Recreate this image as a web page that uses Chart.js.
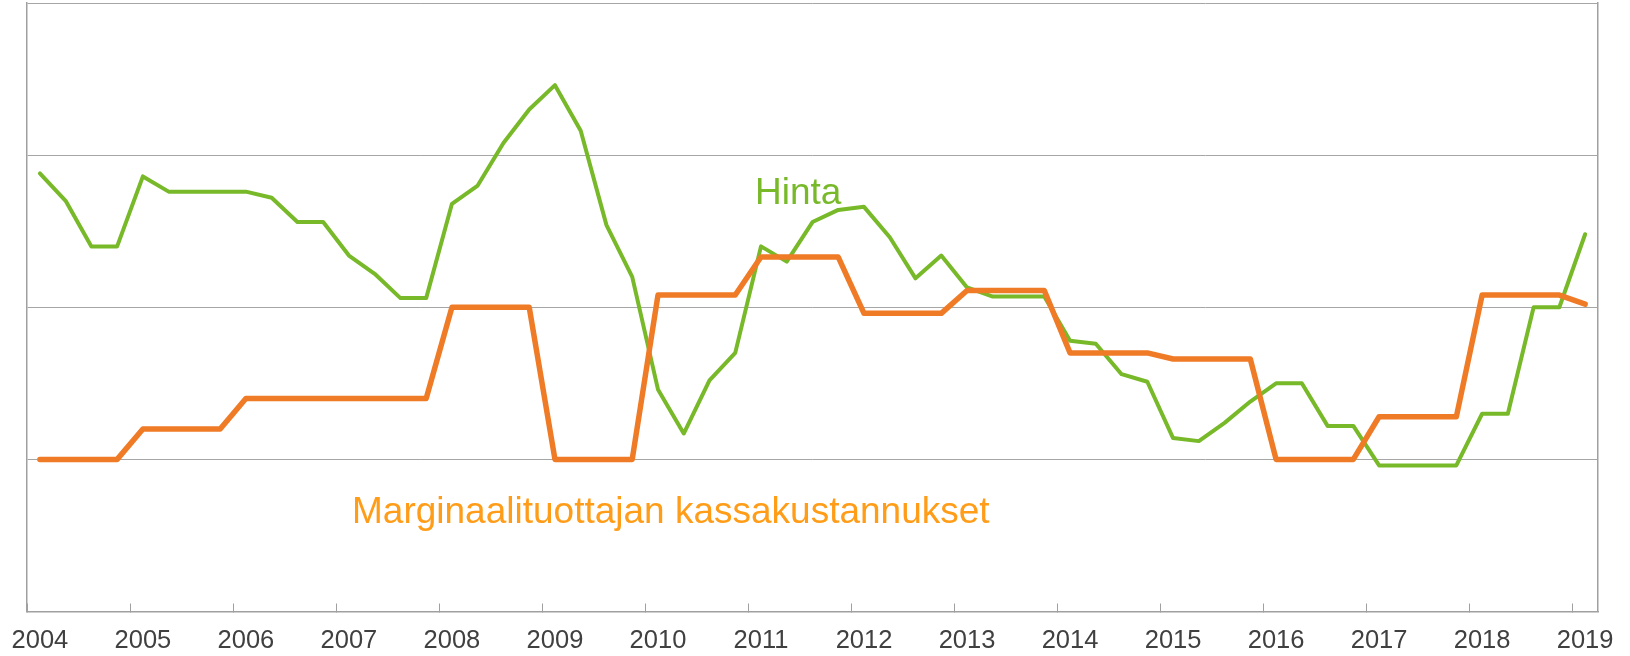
<!DOCTYPE html>
<html>
<head>
<meta charset="utf-8">
<script src="https://cdn.jsdelivr.net/npm/chart.js@4.4.1/dist/chart.umd.min.js"></script>
<style>
  html, body { margin: 0; padding: 0; background: #ffffff; }
  #wrap { width: 1630px; height: 656px; }
</style>
</head>
<body>
<div id="wrap"><canvas id="c" width="1630" height="656"></canvas></div>
<script>
// ---- Data (quarterly, 2004 Q1 .. 2019 Q1) ----
const years = [2004, 2005, 2006, 2007, 2008, 2009, 2010, 2011, 2012, 2013, 2014, 2015, 2016, 2017, 2018, 2019];
const quarters = ['Q1', 'Q2', 'Q3', 'Q4'];
const categories = years.flatMap(y => quarters.map(q => y + ' ' + q)).slice(0, 61);

// Hinta (price)
const hinta = [
  2.88, 2.70, 2.40, 2.40,
  2.86, 2.76, 2.76, 2.76,
  2.76, 2.72, 2.56, 2.56,
  2.34, 2.22, 2.06, 2.06,
  2.68, 2.80, 3.08, 3.30,
  3.46, 3.16, 2.54, 2.20,
  1.46, 1.17, 1.52, 1.70,
  2.40, 2.30, 2.56, 2.64,
  2.66, 2.46, 2.19, 2.34,
  2.13, 2.07, 2.07, 2.07,
  1.78, 1.76, 1.56, 1.51,
  1.14, 1.12, 1.24, 1.38,
  1.50, 1.50, 1.22, 1.22,
  0.96, 0.96, 0.96, 0.96,
  1.30, 1.30, 2.00, 2.00,
  2.48
];

// Marginaalituottajan kassakustannukset (marginal producer cash cost)
const kassakustannukset = [
  1.00, 1.00, 1.00, 1.00,
  1.20, 1.20, 1.20, 1.20,
  1.40, 1.40, 1.40, 1.40,
  1.40, 1.40, 1.40, 1.40,
  2.00, 2.00, 2.00, 2.00,
  1.00, 1.00, 1.00, 1.00,
  2.08, 2.08, 2.08, 2.08,
  2.33, 2.33, 2.33, 2.33,
  1.96, 1.96, 1.96, 1.96,
  2.11, 2.11, 2.11, 2.11,
  1.70, 1.70, 1.70, 1.70,
  1.66, 1.66, 1.66, 1.66,
  1.00, 1.00, 1.00, 1.00,
  1.28, 1.28, 1.28, 1.28,
  2.08, 2.08, 2.08, 2.08,
  2.02
];

const seriesNames = ['Marginaalituottajan kassakustannukset', 'Hinta'];

// ---- Styling ----
const FONT = '"Liberation Sans", Arial, Helvetica, sans-serif';
const GREEN = '#78B929';
const ORANGE_LINE = '#F07B27';
const ORANGE_TEXT = '#FF9C18';
const GRID = '#A6A6A6';
const FRAME = '#A0A0A0';

// in-chart series labels (anchored in data space)
const annotations = [
  { text: 'Hinta', color: GREEN, xIndex: 27.77, yValue: 2.677 },
  { text: 'Marginaalituottajan kassakustannukset', color: ORANGE_TEXT, xIndex: 12.12, yValue: 0.581 }
];

const labelPlugin = {
  id: 'seriesLabels',
  afterDatasetsDraw(chart) {
    const { ctx, scales } = chart;
    ctx.save();
    ctx.font = '37px ' + FONT;
    ctx.textAlign = 'left';
    ctx.textBaseline = 'alphabetic';
    annotations.forEach(a => {
      ctx.fillStyle = a.color;
      ctx.fillText(a.text, scales.x.getPixelForValue(a.xIndex), scales.y.getPixelForValue(a.yValue));
    });
    ctx.restore();
  }
};

new Chart(document.getElementById('c'), {
  type: 'line',
  data: {
    labels: categories,
    datasets: [
      {
        label: seriesNames[0],
        data: kassakustannukset,
        borderColor: ORANGE_LINE,
        borderWidth: 5.5,
        pointRadius: 0,
        tension: 0,
        borderJoinStyle: 'round',
        borderCapStyle: 'round',
        fill: false
      },
      {
        label: seriesNames[1],
        data: hinta,
        borderColor: GREEN,
        borderWidth: 4,
        pointRadius: 0,
        tension: 0,
        borderJoinStyle: 'round',
        borderCapStyle: 'round',
        fill: false
      }
    ]
  },
  options: {
    responsive: false,
    animation: false,
    devicePixelRatio: 1,
    layout: { padding: { left: 27, right: 32, top: 3, bottom: 0 } },
    plugins: {
      legend: { display: false },
      tooltip: { enabled: false }
    },
    scales: {
      x: {
        type: 'category',
        offset: true,
        grid: {
          offset: true,
          drawOnChartArea: false,
          drawTicks: true,
          tickLength: -8,
          lineWidth: 1,
          color: (c) => (c.index % 4 === 0 ? FRAME : 'rgba(0,0,0,0)')
        },
        border: { display: true, color: FRAME, width: 1.5 },
        ticks: {
          autoSkip: false,
          maxRotation: 0,
          minRotation: 0,
          padding: 22,
          color: '#404040',
          font: { family: FONT, size: 25.5, lineHeight: 1.2 },
          callback: function (value, index) {
            return index % 4 === 0 ? categories[index].slice(0, 4) : '';
          }
        },
        afterFit: (scale) => {
          scale.paddingLeft = 0;
          scale.paddingRight = 0;
          scale.height = 44.5;
        }
      },
      y: {
        type: 'linear',
        min: 0,
        max: 4,
        position: 'left',
        grid: { color: GRID, lineWidth: 1, drawTicks: false },
        border: { display: true, color: FRAME, width: 1.5 },
        ticks: { display: false, stepSize: 1 }
      },
      y2: {
        type: 'linear',
        min: 0,
        max: 4,
        position: 'right',
        grid: { drawOnChartArea: false, drawTicks: false },
        border: { display: true, color: FRAME, width: 1.5 },
        ticks: { display: false }
      }
    }
  },
  plugins: [labelPlugin]
});
</script>
</body>
</html>
